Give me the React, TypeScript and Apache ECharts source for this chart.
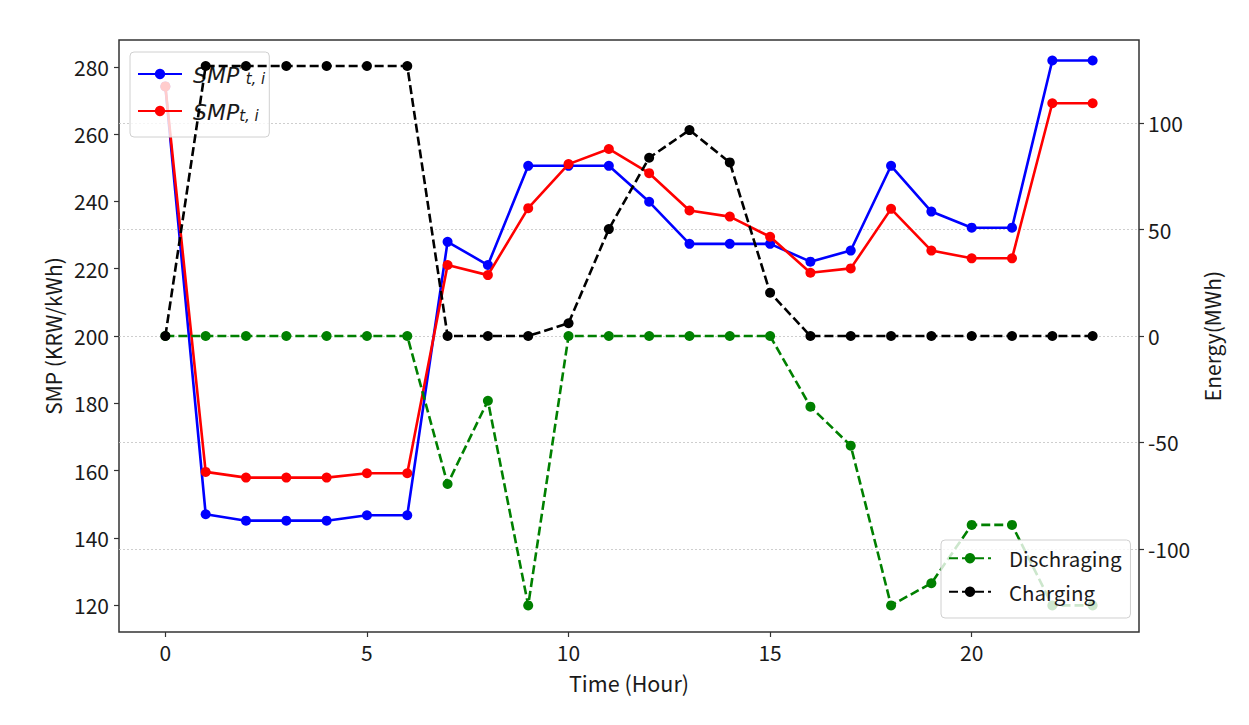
import React, { useEffect, useRef } from "react";
import * as echarts from "echarts";

const hours = [0, 1, 2, 3, 4, 5, 6, 7, 8, 9, 10, 11, 12, 13, 14, 15, 16, 17, 18, 19, 20, 21, 22, 23];
const smpStar = [274.2, 147.0, 145.1, 145.1, 145.1, 146.7, 146.7, 228.0, 221.1, 250.6, 250.6, 250.6, 239.9, 227.4, 227.4, 227.4, 222.1, 225.4, 250.6, 237.0, 232.2, 232.2, 281.9, 281.9];
const smp = [274.2, 159.6, 157.9, 157.9, 157.9, 159.2, 159.2, 221.1, 218.1, 238.0, 251.1, 255.6, 248.4, 237.3, 235.5, 229.5, 218.8, 220.1, 237.8, 225.4, 223.1, 223.1, 269.2, 269.2];
const discharging = [0, 0, 0, 0, 0, 0, 0, -69.5, -30.4, -126.5, 0, 0, 0, 0, 0, 0, -33.2, -51.5, -126.5, -116.1, -88.7, -88.7, -126.5, -126.5];
const charging = [0, 126.8, 126.8, 126.8, 126.8, 126.8, 126.8, 0, 0, 0, 6.0, 50.2, 83.7, 96.7, 81.5, 20.3, 0, 0, 0, 0, 0, 0, 0, 0];
const xTicks = [0, 5, 10, 15, 20];
const leftTicks = [120, 140, 160, 180, 200, 220, 240, 260, 280];
const rightTicks = [-100, -50, 0, 50, 100];

const FONT = "'Noto Sans CJK KR', 'Noto Sans', sans-serif";
const TXT = "#1a1a1a";

export default function App() {
  const ref = useRef<HTMLDivElement>(null);
  useEffect(() => {
    const chart = echarts.init(ref.current!, null, { renderer: "svg" });
    const pair = (arr: number[]) => hours.map((h, i) => [h, arr[i]]);
    const tickLabel = { fontFamily: FONT, fontSize: 21, color: TXT };
    const tickStyle = { color: "#333", width: 1.2 };
    const option: any = {
      animation: false,
      backgroundColor: "#fff",
      textStyle: { fontFamily: FONT },
      grid: {
        left: 119,
        top: 40,
        right: 110,
        bottom: 93,
        show: true,
        borderColor: "#333",
        borderWidth: 1.5,
        backgroundColor: "transparent",
      },
      legend: [
        {
          data: ["SMP*", "SMP"],
          orient: "vertical",
          left: 130,
          top: 52,
          padding: [3, 4, 14, 7],
          itemGap: 6,
          itemWidth: 44,
          itemHeight: 13,
          backgroundColor: "rgba(255,255,255,0.8)",
          borderColor: "#d0d0d0",
          borderWidth: 1,
          borderRadius: 4,
          z: 4,
          formatter: (name: string) =>
            name === "SMP*" ? "{m|SMP}{sup|*}{sub|t, i}" : "{m|SMP}{sub|t, i}",
          textStyle: {
            color: TXT,
            rich: {
              m: { fontFamily: "DejaVu Sans", fontStyle: "italic", fontSize: 22, lineHeight: 24, verticalAlign: "top", padding: [2, 0, 0, 6], color: TXT },
              sup: { fontFamily: "DejaVu Sans", fontSize: 13, lineHeight: 10, verticalAlign: "top", color: TXT },
              sub: { fontFamily: "DejaVu Sans", fontStyle: "italic", fontSize: 15, lineHeight: 12, verticalAlign: "bottom", padding: [16, 0, 0, 0], color: TXT },
            },
          },
        },
        {
          data: ["Dischraging", "Charging"],
          orient: "vertical",
          left: 941,
          top: 540,
          padding: [8, 9, 16, 7],
          itemGap: 13,
          itemWidth: 42,
          itemHeight: 13,
          backgroundColor: "rgba(255,255,255,0.8)",
          borderColor: "#d0d0d0",
          borderWidth: 1,
          borderRadius: 4,
          z: 10,
          formatter: (name: string) => "{a|" + name + "}",
          textStyle: {
            rich: {
              a: { fontFamily: FONT, fontSize: 20.5, lineHeight: 24, padding: [0, 0, 0, 13], color: TXT },
            },
          },
        },
      ],
      xAxis: {
        type: "value",
        min: -1.15,
        max: 24.15,
        name: "Time (Hour)",
        nameLocation: "middle",
        nameGap: 40,
        nameTextStyle: { fontFamily: FONT, fontSize: 21.5, color: TXT },
        axisLine: { show: false, onZero: false },
        axisTick: { show: true, length: 5, customValues: xTicks, lineStyle: tickStyle },
        axisLabel: { ...tickLabel, margin: 9, customValues: xTicks },
        splitLine: { show: false },
      },
      yAxis: [
        {
          type: "value",
          min: 112,
          max: 288,
          position: "left",
          name: "SMP (KRW/kWh)",
          nameLocation: "middle",
          nameGap: 50,
          nameTextStyle: { fontFamily: FONT, fontSize: 21, color: TXT },
          axisLine: { show: false, onZero: false },
          axisTick: { show: true, length: 5, customValues: leftTicks, lineStyle: tickStyle },
          axisLabel: { ...tickLabel, margin: 10, customValues: leftTicks },
          splitLine: { show: false },
        },
        {
          type: "value",
          min: -139,
          max: 139,
          position: "right",
          name: "Energy(MWh)",
          nameLocation: "middle",
          nameGap: 59,
          nameTextStyle: { fontFamily: FONT, fontSize: 21, color: TXT },
          axisLine: { show: false, onZero: false },
          axisTick: { show: true, length: 5, customValues: rightTicks, lineStyle: tickStyle },
          axisLabel: { ...tickLabel, margin: 9, customValues: rightTicks },
          splitLine: { show: true, lineStyle: { color: "#c8c8c8", width: 0.9, type: [2, 2] } },
        },
      ],
      series: [
        {
          name: "SMP*",
          type: "line",
          yAxisIndex: 0,
          data: pair(smpStar),
          symbol: "circle",
          symbolSize: 10,
          lineStyle: { color: "#0000ff", width: 2.6 },
          itemStyle: { color: "#0000ff" },
          z: 2,
        },
        {
          name: "SMP",
          type: "line",
          yAxisIndex: 0,
          data: pair(smp),
          symbol: "circle",
          symbolSize: 10,
          lineStyle: { color: "#ff0000", width: 2.6 },
          itemStyle: { color: "#ff0000" },
          z: 3,
        },
        {
          name: "Dischraging",
          type: "line",
          yAxisIndex: 1,
          data: pair(discharging),
          symbol: "circle",
          symbolSize: 10,
          lineStyle: { color: "#008000", width: 2.6, type: [9, 4] },
          itemStyle: { color: "#008000" },
          z: 5,
        },
        {
          name: "Charging",
          type: "line",
          yAxisIndex: 1,
          data: pair(charging),
          symbol: "circle",
          symbolSize: 10,
          lineStyle: { color: "#000000", width: 2.6, type: [9, 4] },
          itemStyle: { color: "#000000" },
          z: 6,
        },
      ],
    };
    chart.setOption(option);
    return () => chart.dispose();
  }, []);
  return (
    <div
      ref={ref}
      style={{ position: "absolute", left: 0, top: 0, width: 1249, height: 725 }}
    />
  );
}
